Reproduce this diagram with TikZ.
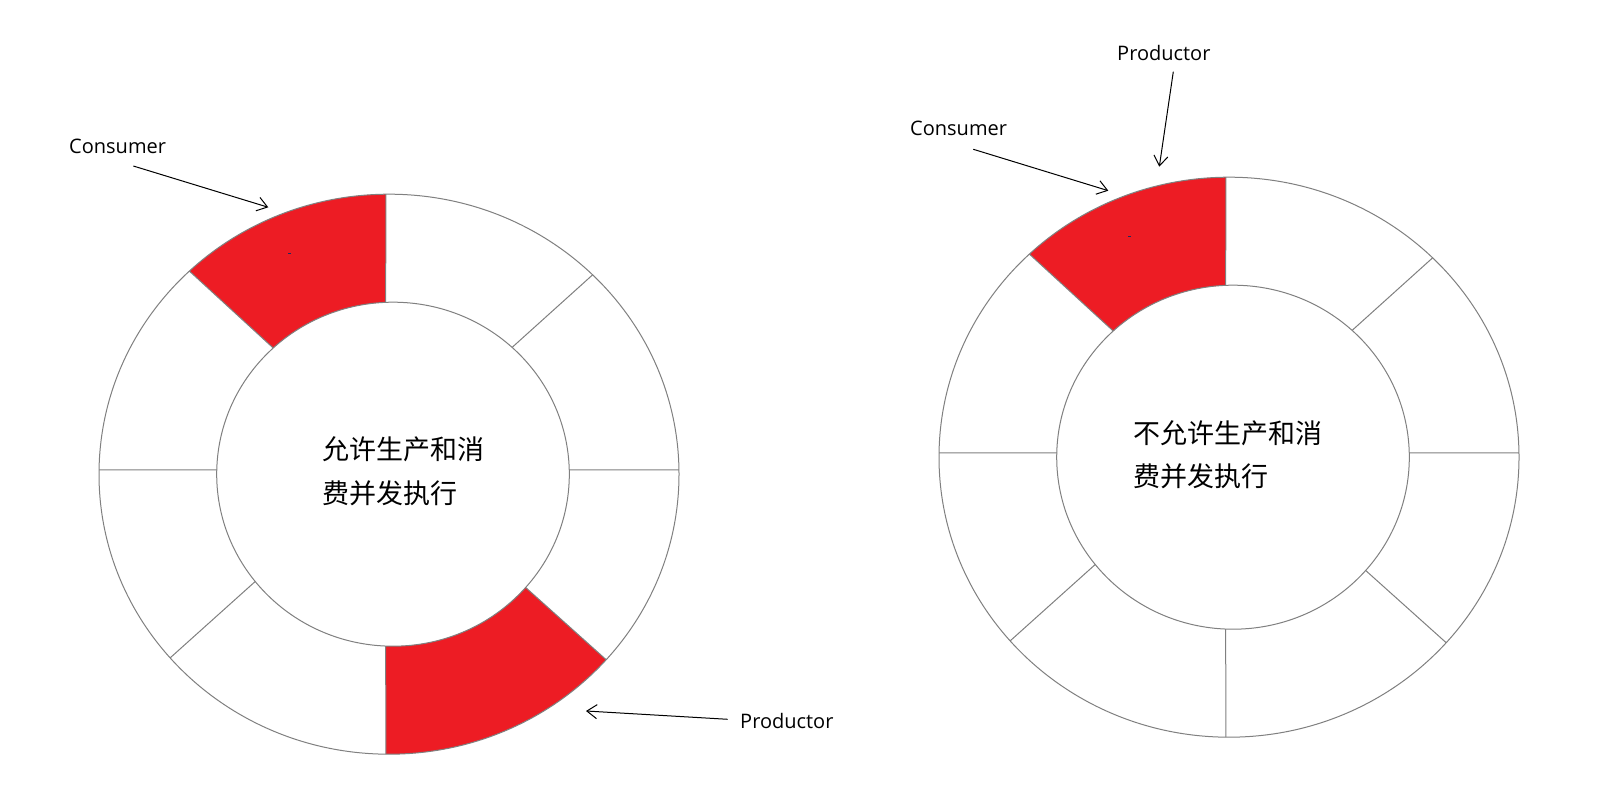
\documentclass[tikz,border=0pt]{standalone}
\usepackage{fontspec}
\setmainfont{Open Sans}
\newfontfamily\cjk{Noto Sans CJK SC}
\usetikzlibrary{arrows.meta,calc}
\definecolor{segred}{HTML}{ED1C24}
\definecolor{ringgray}{HTML}{808080}
\definecolor{dotnavy}{HTML}{1F2A5F}
\begin{document}
\begin{tikzpicture}[x=1pt,y=1pt,
  ringline/.style={draw=ringgray, line width=1pt},
  sector/.style={fill=segred},
  tag/.style={font=\fontsize{20}{24}\selectfont, inner sep=0pt, anchor=west},
  cjktext/.style={font=\cjk\fontsize{27}{43.5}\selectfont, align=left, inner sep=0pt, anchor=west},
  pointer/.style={draw=black, line width=1pt, -{Straight Barb[length=10pt,width=14pt]}},
]
\fill[white] (0,0) rectangle (1608,805);
\useasboundingbox (0,0) rectangle (1608,805);

% ring centres (outer / inner)
\coordinate (LO) at (389,330.8);
\coordinate (LI) at (393,330.8);
\coordinate (RO) at (1229,347.8);
\coordinate (RI) at (1233,347.8);

% red sectors, left ring
\fill[sector] ($(LO)+(90.6:290 and 280)$) arc[start angle=90.6, end angle=133.5, x radius=290, y radius=280]
  -- ($(LI)+(132.8:176.3 and 172)$) arc[start angle=132.8, end angle=92.4, x radius=176.3, y radius=172] -- cycle;
\fill[sector] ($(LO)+(-90.6:290 and 280)$) arc[start angle=-90.6, end angle=-41.5, x radius=290, y radius=280]
  -- ($(LI)+(-41.2:176.3 and 172)$) arc[start angle=-41.2, end angle=-92.4, x radius=176.3, y radius=172] -- cycle;
% red sector, right ring
\fill[sector] ($(RO)+(90.6:290 and 280)$) arc[start angle=90.6, end angle=133.5, x radius=290, y radius=280]
  -- ($(RI)+(132.8:176.3 and 172)$) arc[start angle=132.8, end angle=92.4, x radius=176.3, y radius=172] -- cycle;

% rings
\foreach \o/\i in {LO/LI, RO/RI} {
  \draw[ringline] (\o) ellipse[x radius=290, y radius=280];
  \draw[ringline] (\i) ellipse[x radius=176.3, y radius=172];
  \foreach \a/\b in {90.6/92.4, 45.4/47.5, 0.9/1.4, -41.5/-41.2, -90.6/-92.4, 221/218.6, 179.1/178.6, 133.5/132.8}
    \draw[ringline] ($(\i)+(\b:176.3 and 172)$) -- ($(\o)+(\a:290 and 280)$);
}

% tiny marks
\draw[dotnavy, line width=1pt] (288,551.7) -- (291,551.7);
\draw[dotnavy, line width=1pt] (1128,568.3) -- (1131,568.3);

% centre texts
\node[cjktext] (txtL) at (322.7,334) {允许生产和消\\费并发执行};
\node[cjktext] (txtR) at (1133,350.5) {不允许生产和消\\费并发执行};

% labels and pointers
\node[tag] (consL) at (69,659) {Consumer};
\coordinate (consLtail) at (133.3,639);
\coordinate (consLhead) at (268.3,597.7);
\draw[pointer] (consLtail) -- (consLhead);

\node[tag] (prodL) at (740,84) {Productor};
\coordinate (prodLtail) at (727.7,85.7);
\coordinate (prodLhead) at (586,94);
\draw[pointer] (prodLtail) -- (prodLhead);

\node[tag] (consR) at (910,677) {Consumer};
\coordinate (consRtail) at (973.3,655.7);
\coordinate (consRhead) at (1108.3,614.3);
\draw[pointer] (consRtail) -- (consRhead);

\node[tag] (prodR) at (1117,752) {Productor};
\coordinate (prodRtail) at (1173.3,733.3);
\coordinate (prodRhead) at (1159.3,638.3);
\draw[pointer] (prodRtail) -- (prodRhead);
\end{tikzpicture}
\end{document}
